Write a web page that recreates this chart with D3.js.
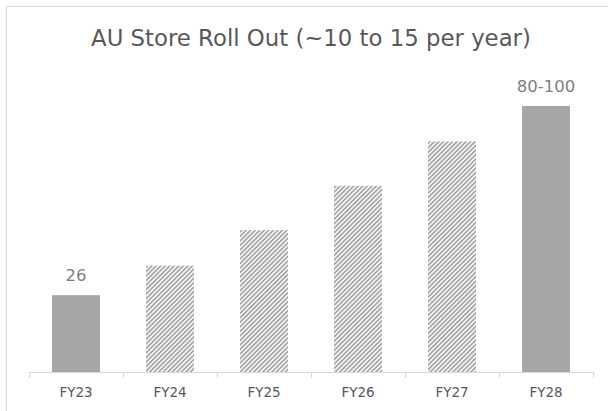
<!DOCTYPE html>
<html><head><meta charset="utf-8">
<script src="https://cdn.jsdelivr.net/npm/d3@7"></script>
<style>body{margin:0;background:#fff}svg{display:block}</style>
</head><body>
<script>
const categories = ["FY23","FY24","FY25","FY26","FY27","FY28"];
const values = [26, 36, 48, 63, 78, 90];
const labels = ["26", "", "", "", "", "80-100"];
const forecast = [false, true, true, true, true, false];
const title = "AU Store Roll Out (~10 to 15 per year)";

const W = 608, H = 411;
const font = "'DejaVu Sans', sans-serif";
const svg = d3.select("body").append("svg").attr("width", W).attr("height", H);

const defs = svg.append("defs");
const pat = defs.append("pattern").attr("id","hatch").attr("patternUnits","userSpaceOnUse")
  .attr("width",3.2).attr("height",3.2).attr("patternTransform","rotate(45)");
pat.append("rect").attr("width",3.2).attr("height",3.2).attr("fill","#ffffff");
pat.append("rect").attr("width",1.8).attr("height",3.2).attr("fill","#a6a6a6");

svg.append("rect").attr("x",6.5).attr("y",6.5).attr("width",W+10).attr("height",H+10)
  .attr("fill","#fff").attr("stroke","#d9d9d9").attr("stroke-width",1);

const x = d3.scaleBand().domain(categories).range([29, 593]).paddingInner(0.49).paddingOuter(0.245);
const y = d3.scaleLinear().domain([0, 90]).range([372, 106]);

svg.append("text").attr("x", 311).attr("y", 46).attr("text-anchor","middle")
  .attr("font-family", font).attr("font-size", 22.8).attr("fill","#595959").text(title);

svg.selectAll("rect.bar").data(categories).enter().append("rect").attr("class","bar")
  .attr("x", d => x(d)).attr("width", x.bandwidth())
  .attr("y", (d,i) => y(values[i])).attr("height", (d,i) => y(0) - y(values[i]))
  .attr("fill", (d,i) => forecast[i] ? "url(#hatch)" : "#a6a6a6");

svg.selectAll("text.lab").data(categories).enter().append("text").attr("class","lab")
  .attr("x", d => x(d) + x.bandwidth()/2).attr("y", (d,i) => y(values[i]) - 14)
  .attr("text-anchor","middle").attr("font-family", font).attr("font-size", 16.5)
  .attr("fill","#7f7f7f").text((d,i) => labels[i]);

// axis
const g = svg.append("g");
g.append("line").attr("x1",29).attr("x2",593).attr("y1",372.5).attr("y2",372.5).attr("stroke","#d9d9d9");
const step = x.step();
d3.range(categories.length + 1).forEach(i => {
  const tx = Math.round(29 + i*step) + 0.5;
  g.append("line").attr("x1",tx).attr("x2",tx).attr("y1",372).attr("y2",378).attr("stroke","#d9d9d9");
});
g.selectAll("text").data(categories).enter().append("text")
  .attr("x", d => x(d) + x.bandwidth()/2).attr("y", 397).attr("text-anchor","middle")
  .attr("font-family", font).attr("font-size", 13.5).attr("fill","#595959").text(d => d);
</script>
</body></html>
